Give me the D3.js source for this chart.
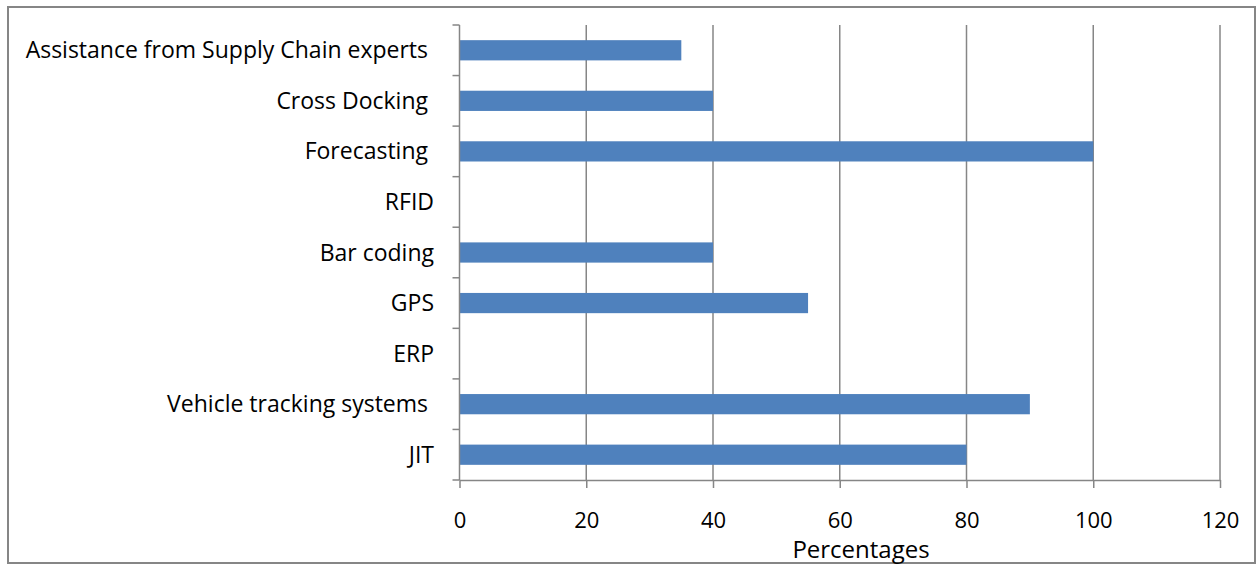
<!DOCTYPE html>
<html>
<head>
<meta charset="utf-8">
<script src="https://cdn.jsdelivr.net/npm/d3@7"></script>
<style>
  body { margin: 0; background: #fff; }
  svg text { font-family: "Open Sans", sans-serif; fill: #000; white-space: pre; }
</style>
</head>
<body>
<svg width="1258" height="565"></svg>
<script>
const categories = [
  "Assistance from Supply Chain experts ",
  "Cross Docking ",
  "Forecasting ",
  "RFID",
  "Bar coding",
  "GPS",
  "ERP",
  "Vehicle tracking systems ",
  "JIT"
];
const values = [35, 40, 100, 0, 40, 55, 0, 90, 80];
const xTicks = [0, 20, 40, 60, 80, 100, 120];

const svg = d3.select("svg");

// outer frame
svg.append("rect")
  .attr("x", 8).attr("y", 7)
  .attr("width", 1247).attr("height", 556)
  .attr("fill", "#fff")
  .attr("stroke", "#868686")
  .attr("stroke-width", 2);

const plotL = 459.5, plotR = 1220, plotT = 25, plotB = 480;

const x = d3.scaleLinear().domain([0, 120]).range([plotL, plotR]);
const y = d3.scaleBand().domain(categories).range([plotT, plotB]).paddingInner(0.6).paddingOuter(0.3);

// vertical gridlines
svg.append("g")
  .selectAll("line")
  .data(xTicks.slice(1))
  .join("line")
  .attr("x1", d => x(d)).attr("x2", d => x(d))
  .attr("y1", plotT).attr("y2", plotB)
  .attr("stroke", "#868686")
  .attr("stroke-width", 1.5);

// bars
svg.append("g")
  .selectAll("rect")
  .data(values)
  .join("rect")
  .attr("x", x(0))
  .attr("y", (d, i) => y(categories[i]))
  .attr("width", d => x(d) - x(0))
  .attr("height", y.bandwidth())
  .attr("fill", "#4F81BD");

// x axis
const xAxis = svg.append("g")
  .attr("transform", `translate(0,${plotB})`)
  .call(d3.axisBottom(x).tickValues(xTicks).tickSize(8).tickPadding(24).tickSizeOuter(0));
xAxis.select(".domain").attr("stroke", "#868686").attr("stroke-width", 1.5);
xAxis.selectAll(".tick line").attr("stroke", "#868686").attr("stroke-width", 1.5);
xAxis.selectAll(".tick text").attr("font-size", 22).attr("font-family", "Open Sans");

// y axis line and ticks between categories
const yLine = svg.append("g");
yLine.append("line")
  .attr("x1", plotL).attr("x2", plotL)
  .attr("y1", plotT).attr("y2", plotB)
  .attr("stroke", "#868686").attr("stroke-width", 1.5);
const step = (plotB - plotT) / categories.length;
yLine.selectAll(".yt")
  .data(d3.range(categories.length + 1))
  .join("line")
  .attr("class", "yt")
  .attr("x1", plotL - 7).attr("x2", plotL)
  .attr("y1", i => plotT + i * step).attr("y2", i => plotT + i * step)
  .attr("stroke", "#868686").attr("stroke-width", 1.5);

// category labels
svg.append("g")
  .selectAll("text")
  .data(categories)
  .join("text")
  .attr("x", 434)
  .attr("y", d => y(d) + y.bandwidth() / 2)
  .attr("dy", "0.35em")
  .attr("text-anchor", "end")
  .attr("font-size", 23)
  .text(d => d);

// axis title
svg.append("text")
  .attr("x", 861).attr("y", 558)
  .attr("text-anchor", "middle")
  .attr("font-size", 24)
  .text("Percentages");
</script>
</body>
</html>
